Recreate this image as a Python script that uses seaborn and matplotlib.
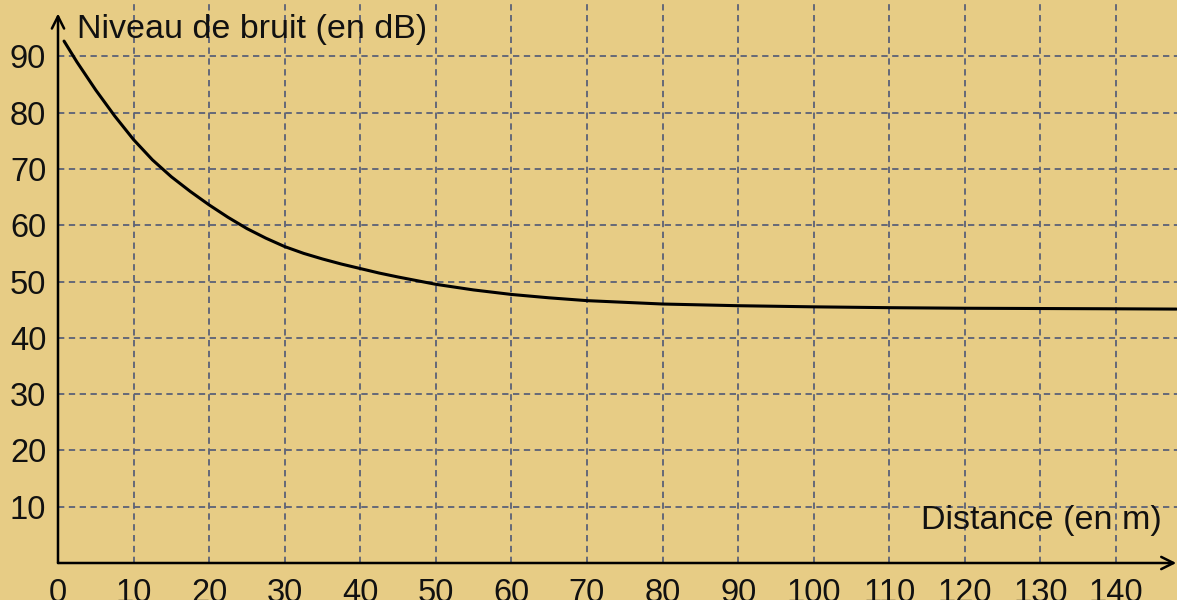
import numpy as np
import pandas as pd
import seaborn as sns
import matplotlib.pyplot as plt

# Valeurs
distance = [0.8, 2.5, 5, 7.5, 10, 12.5, 15, 17.5, 20, 22.5, 25, 27.5, 30, 32.5, 35, 37.5,
            40, 42.5, 45, 50, 55, 60, 65, 70, 75, 80, 90, 100, 110, 120, 130, 140, 148]
niveau = [92.7, 89.0, 84.0, 79.4, 75.2, 71.6, 68.6, 66.0, 63.6, 61.4, 59.4, 57.7, 56.2,
          55.0, 54.0, 53.1, 52.3, 51.5, 50.8, 49.5, 48.5, 47.7, 47.1, 46.6, 46.3, 46.0,
          45.7, 45.5, 45.35, 45.25, 45.2, 45.15, 45.1]
x_ticks = list(range(0, 150, 10))
y_ticks = list(range(10, 100, 10))

fond = '#e7cc85'
grille = '#5b6177'

sns.set_style('white')
plt.rcParams['font.family'] = ['Liberation Sans', 'DejaVu Sans']

fig = plt.figure(figsize=(11.77, 6.0), dpi=100, facecolor=fond)
ax = fig.add_axes([58 / 1177, 37 / 600, 1 - 58 / 1177, 563 / 600])
ax.set_facecolor(fond)

df = pd.DataFrame({'distance': distance, 'niveau': niveau})
sns.lineplot(data=df, x='distance', y='niveau', ax=ax, color='black', linewidth=2.2)

xmax = (1177 - 58) / 7.557
ax.set_xlim(0, xmax)
ax.set_ylim(0, 100)

# grille en pointillés
for v in x_ticks[1:]:
    ax.axvline(v, color=grille, lw=1.3, ls=(0, (3.5, 2.5)), zorder=0)
for v in y_ticks:
    ax.axhline(v, color=grille, lw=1.3, ls=(0, (3.5, 2.5)), zorder=0)

for s in ax.spines.values():
    s.set_visible(False)

# axes fléchés
ax.annotate('', xy=(0, 97.6), xytext=(0, 0), xycoords='data',
            arrowprops=dict(arrowstyle='->', color='black', lw=1.8, mutation_scale=22,
                            shrinkA=0, shrinkB=0), annotation_clip=False)
ax.annotate('', xy=(xmax - 0.1, 0), xytext=(0, 0), xycoords='data',
            arrowprops=dict(arrowstyle='->', color='black', lw=1.8, mutation_scale=22,
                            shrinkA=0, shrinkB=0), annotation_clip=False)

ax.set_xticks(x_ticks)
ax.set_yticks(y_ticks)
ax.tick_params(axis='both', direction='inout', length=5, width=1.3, color='black',
               labelsize=23.5, labelcolor='#111111')
ax.tick_params(axis='x', pad=8)
ax.tick_params(axis='y', pad=6)
ax.set_xlabel('')
ax.set_ylabel('')

ax.text(2.5, 94.7, 'Niveau de bruit (en dB)', fontsize=24.5, ha='left', va='center',
        color='#111111')
ax.text(146, 7.6, 'Distance (en m)', fontsize=24.5, ha='right', va='center',
        color='#111111')

fig.savefig('out.png', dpi=100, facecolor=fond)
